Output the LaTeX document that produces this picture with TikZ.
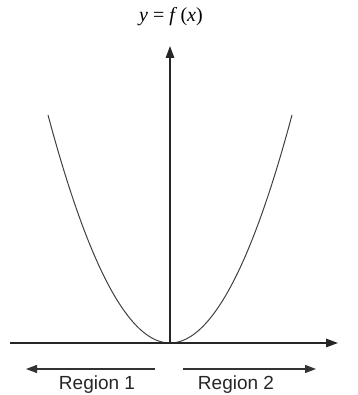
\documentclass[tikz,border=0pt]{standalone}
\usepackage{fontspec}
\setmainfont{Liberation Serif}
\newfontfamily\regionfont{Liberation Sans}
\usetikzlibrary{arrows.meta}
\begin{document}
\begin{tikzpicture}[x=1pt,y=1pt,
  axis/.style={line width=1.3pt,black!85,-{Triangle[length=12pt,width=8.5pt]}},
  curve/.style={line width=1pt,black!75},
  regarrow/.style={line width=1.2pt,black!80,-{Triangle[length=11pt,width=8pt]}},
  regtext/.style={font=\regionfont\fontsize{19}{22}\selectfont,text=black!85,inner sep=0pt},
  lbl/.style={font=\fontsize{20}{24}\selectfont,inner sep=0pt}]
\useasboundingbox (0,0) rectangle (357,395);
\coordinate (O) at (170,52);
\coordinate (xs) at (10,52);
\coordinate (xe) at (338,52);
\coordinate (ye) at (170,349);
\node[lbl] (ylab) at (171,378) {\textit{y} = \textit{f}\,(\textit{x})};
\draw[curve] plot[domain=-122:122,samples=100,smooth] ({170+\x},{52+228*(\x/122)*(\x/122)});
\draw[axis] (xs) -- (xe);
\draw[axis] (O) -- (ye);
\coordinate (l1) at (155,26);
\coordinate (l2) at (26,26);
\coordinate (r1) at (183,26);
\coordinate (r2) at (316,26);
\draw[regarrow] (l1) -- (l2);
\draw[regarrow] (r1) -- (r2);
\node[regtext] (reg1) at (97,10) {Region 1};
\node[regtext] (reg2) at (236,10) {Region 2};
\end{tikzpicture}
\end{document}
